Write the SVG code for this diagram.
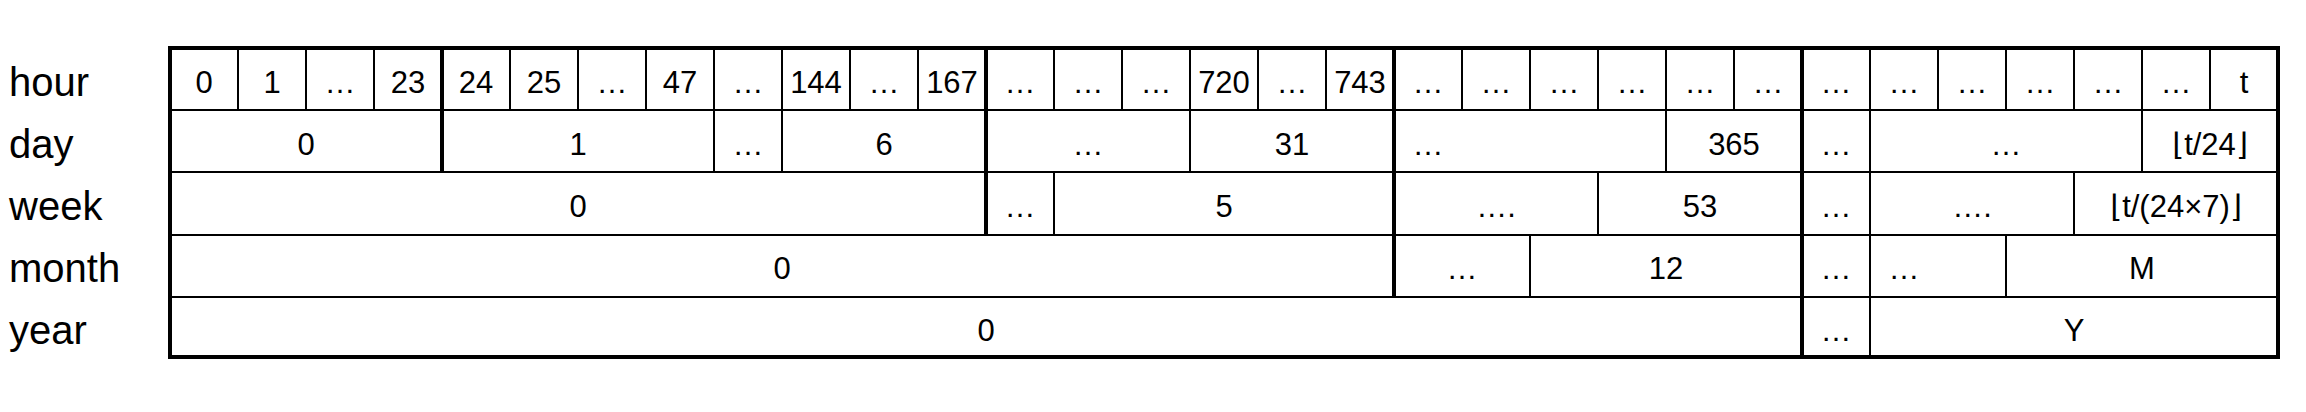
<svg xmlns="http://www.w3.org/2000/svg" width="2306" height="412" viewBox="0 0 2306 412">
<style>
.lbl{font-family:"Liberation Sans",Arial,"DejaVu Sans",sans-serif;font-size:40px;fill:#000}
.c{font-family:"Liberation Sans",Arial,"DejaVu Sans",sans-serif;font-size:31px;fill:#000;text-anchor:middle}
.thin{stroke:#000;stroke-width:2;fill:none}
.thick{stroke:#000;stroke-width:4;fill:none}
</style>
<rect width="2306" height="412" fill="#fff"/>
<g id="labels">
<text class="lbl" x="9" y="96">hour</text>
<text class="lbl" x="9" y="158">day</text>
<text class="lbl" x="9" y="220">week</text>
<text class="lbl" x="9" y="282">month</text>
<text class="lbl" x="9" y="344">year</text>
</g>
<g id="grid">
<path class="thin" d="M170 110H2278M170 172H2278M170 235H2278M170 297H2278"/>
<path class="thin" d="M238 48V110M306 48V110M374 48V110M510 48V110M578 48V110M646 48V110M714 48V110M782 48V110M850 48V110M918 48V110M1054 48V110M1122 48V110M1190 48V110M1258 48V110M1326 48V110M1462 48V110M1530 48V110M1598 48V110M1666 48V110M1734 48V110M1870 48V110M1938 48V110M2006 48V110M2074 48V110M2142 48V110M2210 48V110"/>
<path class="thin" d="M714 110V172M782 110V172M1190 110V172M1666 110V172M1870 110V172M2142 110V172"/>
<path class="thin" d="M1054 172V235M1598 172V235M1870 172V235M2074 172V235"/>
<path class="thin" d="M1530 235V297M1870 235V297M2006 235V297"/>
<path class="thin" d="M1870 297V357"/>
<path class="thick" d="M442 48V172M986 48V235M1394 48V297M1802 48V357"/>
<rect class="thick" x="170" y="48" width="2108" height="309"/>
</g>
<g id="row-hour">
<text class="c" x="204" y="93">0</text>
<text class="c" x="272" y="93">1</text>
<text class="c" x="340" y="93">…</text>
<text class="c" x="408" y="93">23</text>
<text class="c" x="476" y="93">24</text>
<text class="c" x="544" y="93">25</text>
<text class="c" x="612" y="93">…</text>
<text class="c" x="680" y="93">47</text>
<text class="c" x="748" y="93">…</text>
<text class="c" x="816" y="93">144</text>
<text class="c" x="884" y="93">…</text>
<text class="c" x="952" y="93">167</text>
<text class="c" x="1020" y="93">…</text>
<text class="c" x="1088" y="93">…</text>
<text class="c" x="1156" y="93">…</text>
<text class="c" x="1224" y="93">720</text>
<text class="c" x="1292" y="93">…</text>
<text class="c" x="1360" y="93">743</text>
<text class="c" x="1428" y="93">…</text>
<text class="c" x="1496" y="93">…</text>
<text class="c" x="1564" y="93">…</text>
<text class="c" x="1632" y="93">…</text>
<text class="c" x="1700" y="93">…</text>
<text class="c" x="1768" y="93">…</text>
<text class="c" x="1836" y="93">…</text>
<text class="c" x="1904" y="93">…</text>
<text class="c" x="1972" y="93">…</text>
<text class="c" x="2040" y="93">…</text>
<text class="c" x="2108" y="93">…</text>
<text class="c" x="2176" y="93">…</text>
<text class="c" x="2244" y="93">t</text>
</g>
<g id="row-day">
<text class="c" x="306" y="155">0</text>
<text class="c" x="578" y="155">1</text>
<text class="c" x="748" y="155">…</text>
<text class="c" x="884" y="155">6</text>
<text class="c" x="1088" y="155">…</text>
<text class="c" x="1292" y="155">31</text>
<text class="c" x="1428" y="155">…</text>
<text class="c" x="1734" y="155">365</text>
<text class="c" x="1836" y="155">…</text>
<text class="c" x="2006" y="155">…</text>
<text class="c" x="2210" y="155">⌊t/24⌋</text>
</g>
<g id="row-week">
<text class="c" x="578" y="217">0</text>
<text class="c" x="1020" y="217">…</text>
<text class="c" x="1224" y="217">5</text>
<text class="c" x="1496" y="217">….</text>
<text class="c" x="1700" y="217">53</text>
<text class="c" x="1836" y="217">…</text>
<text class="c" x="1972" y="217">….</text>
<text class="c" x="2176" y="217">⌊t/(24×7)⌋</text>
</g>
<g id="row-month">
<text class="c" x="782" y="279">0</text>
<text class="c" x="1462" y="279">…</text>
<text class="c" x="1666" y="279">12</text>
<text class="c" x="1836" y="279">…</text>
<text class="c" x="1904" y="279">…</text>
<text class="c" x="2142" y="279">M</text>
</g>
<g id="row-year">
<text class="c" x="986" y="341">0</text>
<text class="c" x="1836" y="341">…</text>
<text class="c" x="2074" y="341">Y</text>
</g>
</svg>
